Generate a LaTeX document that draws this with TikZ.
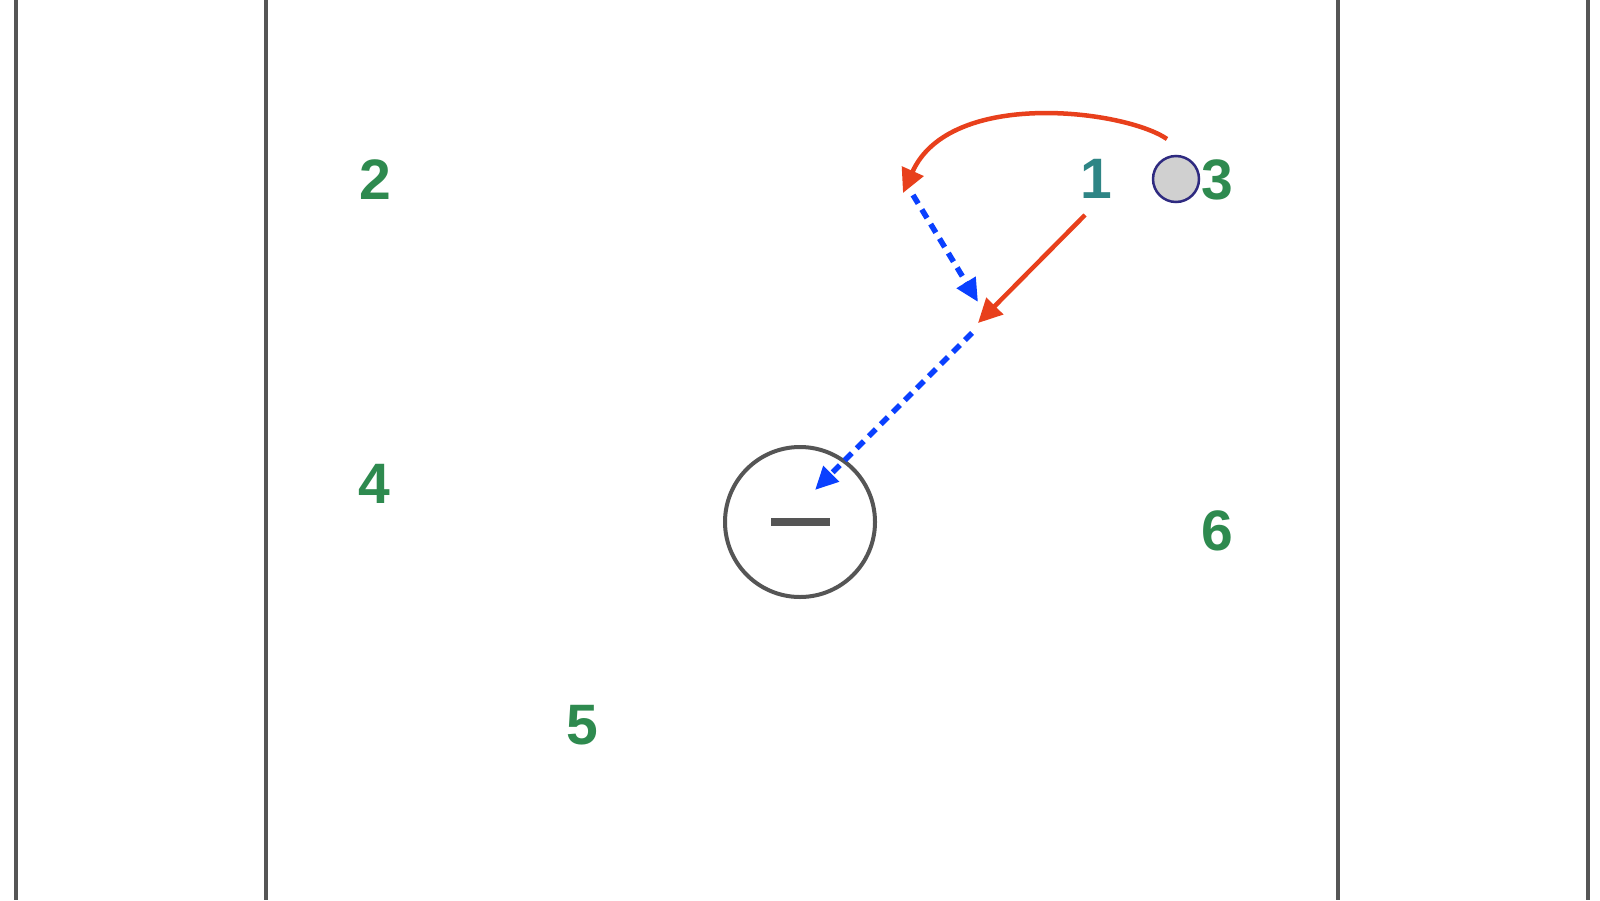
\documentclass[tikz,border=0pt]{standalone}
\usepackage{fontspec}
\setmainfont{Liberation Sans}
\usetikzlibrary{arrows.meta}
\definecolor{fieldgray}{HTML}{555555}
\definecolor{pgreen}{HTML}{2E8A4F}
\definecolor{pteal}{HTML}{2E8585}
\definecolor{pred}{HTML}{E8401C}
\definecolor{pblue}{HTML}{0A40FF}
\definecolor{ballfill}{HTML}{D0D0D0}
\definecolor{ballline}{HTML}{2E2A80}
\tikzset{
  fieldline/.style={draw=fieldgray, line width=4.5pt},
  player/.style={font=\fontsize{57}{57}\selectfont\bfseries, text=pgreen, anchor=base, inner sep=0pt},
  runarrow/.style={draw=pred, line width=4.5pt, -{Triangle[length=24pt,width=23pt]}},
  passarrow/.style={draw=pblue, line width=5.5pt, dash pattern=on 10pt off 7pt, -{Triangle[length=23pt,width=21pt]}},
}
\begin{document}
\begin{tikzpicture}[x=1pt,y=-1pt]
\useasboundingbox (0,0) rectangle (1600,900);
\fill[white] (0,0) rectangle (1600,900);
% field lines
\draw[fieldline] (16,0) -- (16,900);
\draw[fieldline] (266,0) -- (266,900);
\draw[fieldline] (1338,0) -- (1338,900);
\draw[fieldline] (1588,0) -- (1588,900);
% players
\node[player] (p2) at (375,199) {2};
\node[player] (p4) at (374,503) {4};
\node[player] (p5) at (582,744) {5};
\node[player] (p6) at (1217,550) {6};
\node[player, text=pteal] (p1) at (1096,198) {1};
\node[player] (p3) at (1217,199) {3};
% ball
\node[circle, minimum size=46pt, inner sep=0pt, fill=ballfill, draw=ballline, line width=2.5pt] (ball) at (1176,179) {};
% goal circle
\node[circle, minimum size=150pt, inner sep=0pt, draw=fieldgray, line width=4pt] (goal) at (800,522) {};
\fill[fieldgray] (771,518) rectangle (830,526);
% arrow points
\coordinate (c3start) at (1167,139);
\coordinate (c3end) at (903,193);
\coordinate (c1start) at (1085,215);
\coordinate (c1end) at (978,323);
\coordinate (b1start) at (913,195);
\coordinate (b1end) at (978,302);
\coordinate (b2start) at (972,333);
\coordinate (b2end) at (815,490);
% arrows
\draw[runarrow] (c3start) .. controls (1125,110) and (950,88) .. (c3end);
\draw[runarrow] (c1start) -- (c1end);
\draw[passarrow] (b1start) -- (b1end);
\draw[passarrow] (b2start) -- (b2end);
\end{tikzpicture}
\end{document}
